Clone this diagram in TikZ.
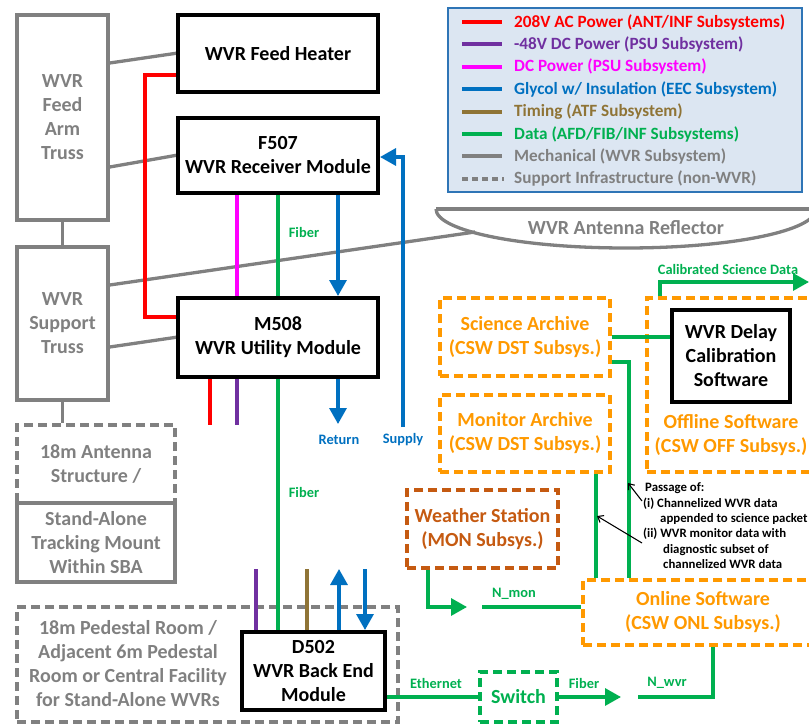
\documentclass[tikz,border=0pt]{standalone}
\usepackage{fontspec}
\setmainfont{Carlito}
\usetikzlibrary{arrows.meta,calc}
\definecolor{cRed}{HTML}{FF0000}
\definecolor{cPurple}{HTML}{7030A0}
\definecolor{cMag}{HTML}{FF00FF}
\definecolor{cBlue}{HTML}{0070C0}
\definecolor{cBrown}{HTML}{8F7436}
\definecolor{cGreen}{HTML}{00B050}
\definecolor{cGrey}{HTML}{808080}
\definecolor{cOrange}{HTML}{FF9900}
\definecolor{cRust}{HTML}{C55A11}
\definecolor{cLegFill}{HTML}{DCE6F2}
\definecolor{cLegLine}{HTML}{2E75B6}
\begin{document}
\begin{tikzpicture}[x=1pt,y=-1pt,
  font=\bfseries\fontsize{20}{24}\selectfont,
  blackbox/.style={draw=black,line width=4pt,fill=white,align=center,inner sep=0pt},
  greybox/.style={draw=cGrey,line width=3.5pt,text=cGrey,align=center,inner sep=0pt},
  greydash/.style={greybox,dash pattern=on 9pt off 5pt},
  orangebox/.style={draw=cOrange,line width=3.5pt,dash pattern=on 9pt off 5pt,text=cOrange,align=center,inner sep=0pt},
  rustbox/.style={draw=cRust,line width=3.5pt,dash pattern=on 9pt off 5pt,text=cRust,align=center,inner sep=0pt},
  greenbox/.style={draw=cGreen,line width=3.5pt,dash pattern=on 9pt off 5pt,text=cGreen,align=center,inner sep=0pt},
  mech/.style={draw=cGrey,line width=3.3pt},
  wire/.style={line width=3.3pt},
  bigtip/.style={-{Triangle[length=16pt,width=17pt]}},
  smalllabel/.style={font=\bfseries\fontsize{14.4}{16}\selectfont,inner sep=0pt},
  legtext/.style={font=\bfseries\fontsize{17.2}{19}\selectfont,anchor=west,inner sep=0pt},
  anno/.style={font=\bfseries\fontsize{12.8}{15}\selectfont,anchor=base west,inner sep=0pt},
  pointer/.style={draw=black,line width=1.1pt,-{Straight Barb[length=5pt,width=8pt]}},
]
\useasboundingbox (0,0) rectangle (809,725);

% reflector
\draw[mech] (436,209) -- (816,209);
\draw[mech] (436,209) .. controls (436,231) and (521,248) .. (626,248) .. controls (731,248) and (816,231) .. (816,209);
\node (refltxt) at (626,228) {\textcolor{cGrey}{WVR Antenna Reflector}};
\coordinate (refl) at (475,232);

% left column
\node[greybox,minimum width=91pt,minimum height=205pt] (fat) at (62.5,117.5) {WVR\\Feed\\Arm\\Truss};
\node[greybox,minimum width=91pt,minimum height=153pt] (st) at (62.5,323.5) {WVR\\Support\\Truss};
\node[greydash,minimum width=158pt,minimum height=78pt] (ant) at (96,464) {18m Antenna\\Structure /};
\node[greybox,minimum width=158pt,minimum height=79pt] (mount) at (96,542.5) {Stand-Alone\\Tracking Mount\\Within SBA};
\node[greydash,minimum width=381pt,minimum height=115pt] (ped) at (207.5,664.5) {};
\node[text=cGrey,align=center] (pedtxt) at (128,664) {18m Pedestal Room /\\Adjacent 6m Pedestal\\Room or Central Facility\\for Stand-Alone WVRs};

% mechanical links
\draw[mech] ([yshift=38.5pt]st.east) -- (refl);
\draw[mech] ([yshift=54.5pt]fat.east) -- (178,53);
\draw[mech] ([yshift=-49.5pt]fat.east) -- (178,155);
\draw[mech] (fat.south) -- (st.north);
\draw[mech] ([yshift=-23.5pt]st.east) -- (178,337);
\draw[mech] (st.south) -- (st.south |- ant.north);

% main modules
\node[blackbox,minimum width=200pt,minimum height=77pt] (heater) at (278,53.5) {WVR Feed Heater};
\node[blackbox,minimum width=200pt,minimum height=75pt] (f507) at (278,155.5) {F507\\WVR Receiver Module};
\node[blackbox,minimum width=200pt,minimum height=79pt] (m508) at (278,337.5) {M508\\WVR Utility Module};
\node[blackbox,minimum width=143pt,minimum height=78pt] (d502) at (313.5,671) {D502\\WVR Back End\\Module};

% red power
\draw[wire,cRed] ([yshift=-21.5pt]heater.west) -- ++(-31,0) |- ([yshift=20.5pt]m508.west);
% F507 -> M508
\draw[wire,cMag] ([xshift=-41pt]f507.south) -- ([xshift=-41pt]m508.north);
\draw[wire,cGreen] (f507.south) -- (m508.north);
\draw[wire,cBlue,bigtip] ([xshift=60pt]f507.south) -- ([xshift=60pt]m508.north);
\node[smalllabel,text=cGreen] (fib1) at (304,232) {Fiber};
% supply
\coordinate (supplyend) at (403,427);
\draw[wire,cBlue,bigtip] (supplyend) |- ([yshift=-1.5pt]f507.east);
\node[smalllabel,text=cBlue] (supplylbl) at (403,440) {Supply};
% M508 stubs
\coordinate (retend) at (338,424);
\draw[wire,cBlue,bigtip] ([xshift=60pt]m508.south) -- (retend);
\node[smalllabel,text=cBlue] (retlbl) at (339,440) {Return};
\coordinate (redstub) at (210,425);
\coordinate (purstub) at (237,425);
\draw[wire,cRed] ([xshift=-68pt]m508.south) -- (redstub);
\draw[wire,cPurple] ([xshift=-41pt]m508.south) -- (purstub);
% M508 -> D502 fiber
\draw[wire,cGreen] (m508.south) -- ([xshift=-35.5pt]d502.north);
\node[smalllabel,text=cGreen] (fib2) at (304,492) {Fiber};
% D502 stubs
\coordinate (dpur) at (256,569);
\coordinate (dbrn) at (307,569);
\coordinate (dup) at (339,569);
\coordinate (ddn) at (365,569);
\draw[wire,cPurple] (dpur) -- ([xshift=-57.5pt]d502.north);
\draw[wire,cBrown] (dbrn) -- ([xshift=-6.5pt]d502.north);
\draw[wire,cBlue,bigtip] ([xshift=25.5pt]d502.north) -- (dup);
\draw[wire,cBlue,bigtip] (ddn) -- ([xshift=51.5pt]d502.north);

% legend
\node[draw=cLegLine,fill=cLegFill,line width=2pt,minimum width=354pt,minimum height=184pt,inner sep=0pt] (legend) at (625,100) {};
\draw[cRed,line width=4pt] (462,22) -- (502,22);
\node[legtext,text=cRed] (l1) at (514,22) {208V AC Power (ANT/INF Subsystems)};
\draw[cPurple,line width=4pt] (462,44.4) -- (502,44.4);
\node[legtext,text=cPurple] (l2) at (514,44.4) {-48V DC Power (PSU Subsystem)};
\draw[cMag,line width=4pt] (462,66.8) -- (502,66.8);
\node[legtext,text=cMag] (l3) at (514,66.8) {DC Power (PSU Subsystem)};
\draw[cBlue,line width=4pt] (462,89.2) -- (502,89.2);
\node[legtext,text=cBlue] (l4) at (514,89.2) {Glycol w/ Insulation (EEC Subsystem)};
\draw[cBrown,line width=4pt] (462,111.6) -- (502,111.6);
\node[legtext,text=cBrown] (l5) at (514,111.6) {Timing (ATF Subsystem)};
\draw[cGreen,line width=4pt] (462,134) -- (502,134);
\node[legtext,text=cGreen] (l6) at (514,134) {Data (AFD/FIB/INF Subsystems)};
\draw[cGrey,line width=4pt] (462,156.4) -- (502,156.4);
\node[legtext,text=cGrey] (l7) at (514,156.4) {Mechanical (WVR Subsystem)};
\draw[cGrey,line width=4pt,dash pattern=on 6pt off 4pt] (462,178.8) -- (504,178.8);
\node[legtext,text=cGrey] (l8) at (514,178.8) {Support Infrastructure (non-WVR)};

% right side boxes
\node[orangebox,minimum width=170pt,minimum height=78pt] (sci) at (525,337) {Science Archive\\(CSW DST Subsys.)};
\node[orangebox,minimum width=170pt,minimum height=77pt] (mon) at (525,433.5) {Monitor Archive\\(CSW DST Subsys.)};
\node[orangebox,minimum width=168pt,minimum height=174pt] (off) at (731,385) {};
\node[text=cOrange,align=center] (offtxt) at (731,435) {Offline Software\\(CSW OFF Subsys.)};
\node[blackbox,minimum width=118pt,minimum height=92pt] (dcs) at (731,356) {WVR Delay\\Calibration\\Software};
\node[rustbox,minimum width=151pt,minimum height=78pt] (wx) at (482.5,529) {Weather Station\\(MON Subsys.)};
\node[orangebox,minimum width=240pt,minimum height=65pt] (onl) at (703,612.5) {Online Software\\(CSW ONL Subsys.)};
\node[greenbox,minimum width=77pt,minimum height=50pt] (sw) at (518.5,697) {Switch};

% data links
\draw[wire,cGreen] (sci.east) -- ([yshift=19pt]dcs.west);
\draw[wire,cGreen] ([yshift=-25pt]sci.east) -| ([xshift=-74pt]onl.north);
\draw[wire,cGreen] ([xshift=71pt]mon.south) -- ([xshift=-107pt]onl.north);
\coordinate (calend) at (809,282);
\draw[wire,cGreen,bigtip] ([xshift=-71pt]off.north) |- (calend);
\node[smalllabel,text=cGreen] (callbl) at (728,269) {Calibrated Science Data};

\coordinate (nmontip) at (467,607);
\coordinate (nmonstart) at (482,607);
\draw[wire,cGreen,bigtip] ([xshift=-54.5pt]wx.south) |- (nmontip);
\draw[wire,cGreen] (nmonstart) -- ([yshift=5.5pt]onl.west);
\node[smalllabel,text=cGreen] (nmonlbl) at (514,594) {N\_mon};

\draw[wire,cGreen] ([yshift=-26pt]d502.east) -- (sw.west);
\node[smalllabel,text=cGreen] (ethlbl) at (436,683) {Ethernet};
\coordinate (fibtip) at (621,697);
\draw[wire,cGreen,bigtip] (sw.east) -- (fibtip);
\node[smalllabel,text=cGreen] (fib3) at (584,683) {Fiber};
\coordinate (nwvrstart) at (638,697);
\draw[wire,cGreen] (nwvrstart) -| ([xshift=10pt]onl.south);
\node[smalllabel,text=cGreen] (nwvrlbl) at (667,683) {N\_wvr};

% annotation
\node[anno] (p0) at (645,491) {Passage of:};
\node[anno] (p1) at (643,507) {(i) Channelized WVR data};
\node[anno] (p2) at (660,522) {appended to science packet};
\node[anno] (p3) at (643,537) {(ii) WVR monitor data with};
\node[anno] (p4) at (663,553) {diagnostic subset of};
\node[anno] (p5) at (663,568) {channelized WVR data};
\coordinate (a1s) at (642,501);
\coordinate (a1e) at (628,483);
\coordinate (a2s) at (642,543);
\coordinate (a2e) at (597,516);
\draw[pointer] (a1s) -- (a1e);
\draw[pointer] (a2s) -- (a2e);
\end{tikzpicture}
\end{document}
